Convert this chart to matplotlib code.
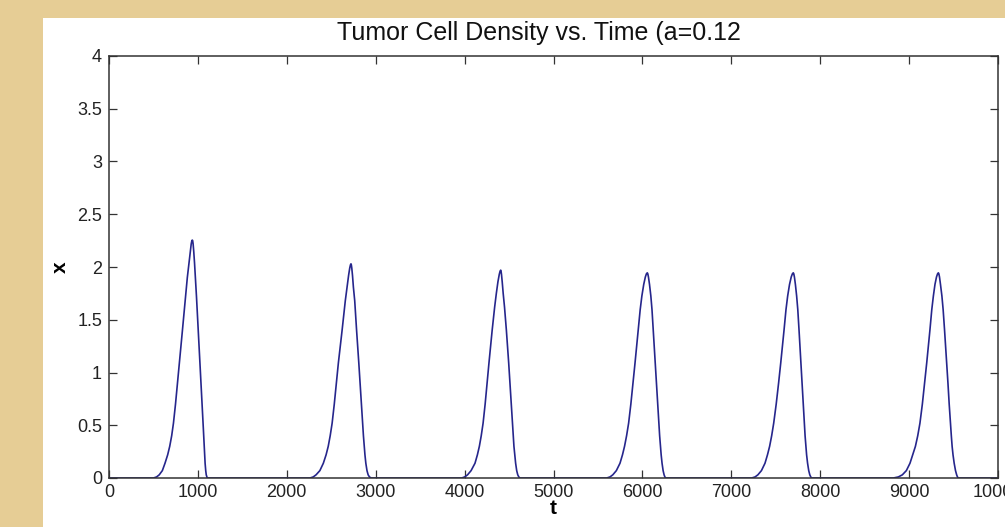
import matplotlib
matplotlib.use("Agg")
import matplotlib.pyplot as plt
from matplotlib.patches import Rectangle

# Peak samples: time t and density x for each pulse.
peak1_t = [500, 535, 565, 600, 630, 660, 683, 705, 725, 748, 770, 791, 826, 862, 881, 900, 914, 925, 932, 937,
           941, 946, 953, 962, 972, 984, 1004, 1024, 1042, 1062, 1071, 1081, 1088, 1094, 1105]
peak1_x = [0.0, 0.01, 0.03, 0.07, 0.14, 0.22, 0.30, 0.40, 0.52, 0.70, 0.90, 1.09, 1.40, 1.72, 1.90, 2.04, 2.15, 2.22, 2.25, 2.255,
           2.25, 2.22, 2.15, 2.04, 1.90, 1.72, 1.40, 1.09, 0.80, 0.456, 0.30, 0.14, 0.07, 0.03, 0.0]

peak2_t = [2261, 2297, 2329, 2372, 2411, 2442, 2466, 2488, 2510, 2534, 2557, 2580, 2622, 2658, 2678, 2695, 2708, 2716, 2722,
           2726, 2731, 2739, 2749, 2764, 2785, 2810, 2824, 2838, 2852, 2862, 2871, 2879, 2889, 2902, 2915, 2930, 2950]
peak2_x = [0.0, 0.01, 0.03, 0.07, 0.14, 0.22, 0.30, 0.40, 0.52, 0.70, 0.90, 1.09, 1.40, 1.68, 1.81, 1.92, 1.99, 2.02, 2.03,
           2.02, 1.99, 1.92, 1.81, 1.68, 1.40, 1.09, 0.90, 0.70, 0.52, 0.40, 0.30, 0.22, 0.14, 0.07, 0.03, 0.01, 0.0]

peak3_t = [3967, 4001, 4033, 4073, 4117, 4144, 4166, 4187, 4208, 4231, 4253, 4274, 4310, 4338, 4357, 4375, 4390, 4399, 4406,
           4410, 4415, 4423, 4434, 4449, 4470, 4496, 4510, 4524, 4537, 4546, 4555, 4564, 4574, 4586, 4598, 4610, 4623]
peak3_x = [0.0, 0.01, 0.03, 0.07, 0.14, 0.22, 0.30, 0.40, 0.52, 0.70, 0.90, 1.09, 1.40, 1.62, 1.75, 1.86, 1.93, 1.96, 1.97,
           1.96, 1.93, 1.86, 1.75, 1.62, 1.40, 1.09, 0.90, 0.70, 0.52, 0.40, 0.30, 0.22, 0.14, 0.07, 0.03, 0.01, 0.0]

peak4_t = [5598, 5635, 5667, 5707, 5748, 5776, 5799, 5822, 5845, 5870, 5894, 5917, 5952, 5975, 5994, 6015, 6033, 6045, 6055,
           6061, 6068, 6080, 6095, 6108, 6122, 6144, 6158, 6172, 6185, 6194, 6203, 6211, 6221, 6233, 6244, 6253, 6262]
peak4_x = [0.0, 0.01, 0.03, 0.07, 0.14, 0.22, 0.30, 0.40, 0.52, 0.70, 0.90, 1.09, 1.40, 1.595, 1.725, 1.835, 1.905, 1.935, 1.945,
           1.935, 1.905, 1.835, 1.725, 1.595, 1.40, 1.09, 0.90, 0.70, 0.52, 0.40, 0.30, 0.22, 0.14, 0.07, 0.03, 0.01, 0.0]

peak5_t = [7229, 7267, 7299, 7339, 7379, 7407, 7431, 7454, 7477, 7505, 7532, 7556, 7593, 7615, 7634, 7655, 7674, 7687, 7697,
           7703, 7710, 7721, 7735, 7748, 7762, 7783, 7796, 7809, 7821, 7830, 7839, 7847, 7858, 7871, 7883, 7894, 7903]
peak5_x = [0.0, 0.01, 0.03, 0.07, 0.14, 0.22, 0.30, 0.40, 0.52, 0.70, 0.90, 1.09, 1.40, 1.595, 1.725, 1.835, 1.905, 1.935, 1.945,
           1.935, 1.905, 1.835, 1.725, 1.595, 1.40, 1.09, 0.90, 0.70, 0.52, 0.40, 0.30, 0.22, 0.14, 0.07, 0.03, 0.01, 0.0]

peak6_t = [8823, 8879, 8924, 8969, 9010, 9041, 9071, 9097, 9122, 9149, 9174, 9198, 9234, 9255, 9273, 9291, 9308, 9320, 9329,
           9335, 9342, 9353, 9369, 9383, 9399, 9423, 9437, 9451, 9465, 9475, 9484, 9494, 9507, 9522, 9535, 9544, 9554]
peak6_x = [0.0, 0.01, 0.03, 0.07, 0.14, 0.22, 0.30, 0.40, 0.52, 0.70, 0.90, 1.09, 1.40, 1.595, 1.725, 1.835, 1.905, 1.935, 1.945,
           1.935, 1.905, 1.835, 1.725, 1.595, 1.40, 1.09, 0.90, 0.70, 0.52, 0.40, 0.30, 0.22, 0.14, 0.07, 0.03, 0.01, 0.0]

x_ticks = [0, 1000, 2000, 3000, 4000, 5000, 6000, 7000, 8000, 9000, 10000]
x_tick_labels = ["0", "1000", "2000", "3000", "4000", "5000", "6000", "7000", "8000", "9000", "10000"]
y_ticks = [0, 0.5, 1, 1.5, 2, 2.5, 3, 3.5, 4]
y_tick_labels = ["0", "0.5", "1", "1.5", "2", "2.5", "3", "3.5", "4"]

# Join the peaks into one series with a flat baseline.
t_values = [0]
x_values = [0.0]
for pt, px in [(peak1_t, peak1_x), (peak2_t, peak2_x), (peak3_t, peak3_x),
               (peak4_t, peak4_x), (peak5_t, peak5_x), (peak6_t, peak6_x)]:
  t_values += pt
  x_values += px
t_values.append(10000)
x_values.append(0.0)

plt.rcParams['font.family'] = ['Liberation Sans', 'DejaVu Sans']

fig = plt.figure(figsize=(10.05, 5.27), dpi=100)
fig.patch.set_facecolor('#e6cd95')

# White figure panel sitting on the parchment background.
fig.patches.append(Rectangle((43/1005, 0), 1.0, (527-18)/527, transform=fig.transFigure,
                             facecolor='white', edgecolor='none', zorder=-1))

ax = fig.add_axes([109/1005, (527-478)/527, (998-109)/1005, (478-56)/527])
ax.set_zorder(1)
ax.plot(t_values, x_values, color='#26268c', linewidth=1.2)

ax.set_xlim(0, 10000)
ax.set_ylim(0, 4)
ax.set_xticks(x_ticks)
ax.set_xticklabels(x_tick_labels)
ax.set_yticks(y_ticks)
ax.set_yticklabels(y_tick_labels)
ax.tick_params(direction='in', length=6, width=0.9, top=True, right=True,
               labelsize=13, labelcolor='#222222', color='#333333')
ax.tick_params(axis='x', pad=4)
ax.tick_params(axis='y', pad=5)
for spine in ax.spines.values():
  spine.set_color('#333333')
  spine.set_linewidth(1.1)

ax.set_xlabel("t", fontsize=15, fontweight='bold', va='center')
ax.xaxis.set_label_coords(0.5, -0.072)
ax.set_ylabel("x", fontsize=15, fontweight='bold', rotation=90, va='center')
ax.yaxis.set_label_coords(-0.055, 0.5)
fig.text(539/1005, 1 - 33/527, "Tumor Cell Density vs. Time (a=0.12", ha='center', va='center',
         fontsize=18, color='#111111')

fig.savefig("out.png", dpi=100, facecolor=fig.get_facecolor())
